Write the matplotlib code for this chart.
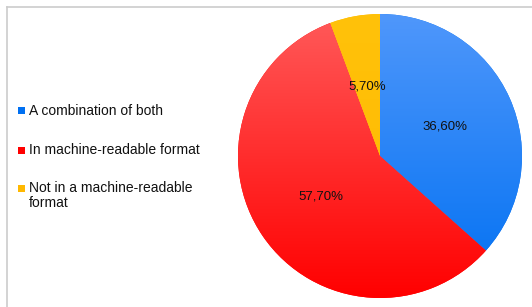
import numpy as np
import matplotlib.pyplot as plt
from matplotlib.colors import to_rgb
from matplotlib.patches import Rectangle
from matplotlib.lines import Line2D

plt.rcParams['font.family'] = ['Liberation Sans', 'DejaVu Sans']

# data
labels = ['A combination of both', 'In machine-readable format', 'Not in a machine-readable\nformat']
values = [36.6, 57.7, 5.7]
pct_text = ['36,60%', '57,70%', '5,70%']
colors_top = ['#4f97fb', '#ff5a5a', '#ffc20a']
colors_bot = ['#0070f2', '#ff0000', '#ffb800']

fig = plt.figure(figsize=(5.32, 3.07), dpi=100)

# frame (top + left light grey lines)
fig.add_artist(Line2D([7/532, 1], [1-7/307, 1-7/307], color='#cccccc', lw=1.2))
fig.add_artist(Line2D([7/532, 7/532], [0, 1-7/307], color='#cccccc', lw=1.2))

# pie axes: center (380,156), radius ~142 px
r_px = 142
cx, cy = 380, 156
ax = fig.add_axes([(cx - r_px)/532, 1 - (cy + r_px)/307, 2*r_px/532, 2*r_px/307])
wedges, _ = ax.pie(values, startangle=90, counterclock=False, colors=colors_bot,
                   radius=1.0, wedgeprops=dict(linewidth=0))
ax.set_xlim(-1, 1)
ax.set_ylim(-1, 1)

# vertical gradient fill per slice
grad = np.linspace(0, 1, 256)[:, None]
for w, ct, cb in zip(wedges, colors_top, colors_bot):
    c0 = np.array(to_rgb(ct))
    c1 = np.array(to_rgb(cb))
    img = c0[None, None, :] * (1 - grad[:, :, None]) + c1[None, None, :] * grad[:, :, None]
    img = np.repeat(img, 2, axis=1)
    im = ax.imshow(img, extent=(-1, 1, -1, 1), origin='upper', aspect='auto', zorder=2)
    im.set_clip_path(w)

# percentage labels at half radius
theta = 90.0
for v, t in zip(values, pct_text):
    mid = np.deg2rad(theta - v / 100 * 360 / 2)
    ax.text(0.5 * np.cos(mid), 0.5 * np.sin(mid), t, ha='center', va='center',
            fontsize=9.5, color='#111111', zorder=5)
    theta -= v / 100 * 360
ax.set_aspect('auto')
ax.axis('off')

# legend drawn by hand
ys = [111, 150, 188]
for lab, col, y in zip(labels, colors_bot, ys):
    fig.add_artist(Rectangle((18/532, 1 - (y + 3.5)/307), 7/532, 7/307,
                             facecolor=col, edgecolor='none'))
    ty = y + 7.5 if '\n' in lab else y
    fig.text(29/532, 1 - ty/307, lab, ha='left', va='center',
             fontsize=10, color='#111111', linespacing=1.08)

fig.savefig('out.png', dpi=100, facecolor='white')
